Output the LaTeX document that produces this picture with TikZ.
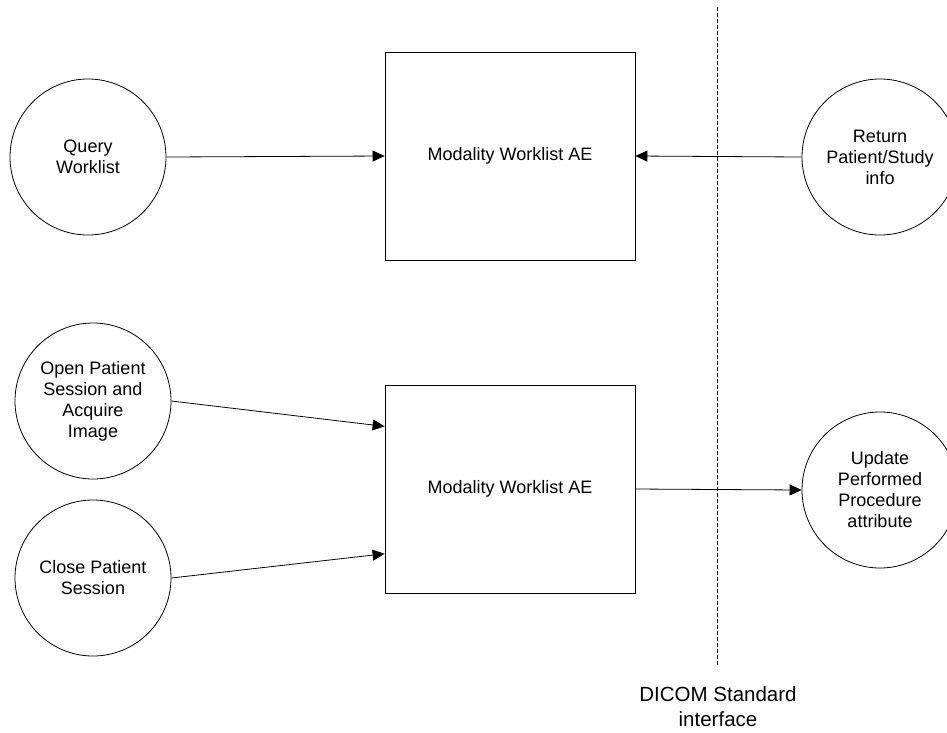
\documentclass[tikz,border=0pt]{standalone}
\usepackage{fontspec}
\setmainfont{Liberation Sans}
\usetikzlibrary{arrows.meta,calc}
\begin{document}
\begin{tikzpicture}[x=1pt,y=-1pt,
  proc/.style={draw,circle,minimum size=156pt,inner sep=0pt,align=center,font=\fontsize{18}{21}\selectfont,line width=0.8pt},
  aebox/.style={draw,rectangle,minimum width=250pt,minimum height=208pt,inner sep=0pt,font=\fontsize{18}{21}\selectfont,line width=0.8pt},
  flow/.style={line width=0.8pt,-{Triangle[length=12pt,width=11pt]}},
  bound/.style={line width=0.8pt,dash pattern=on 4pt off 2pt}]
\useasboundingbox (0,0) rectangle (947,732);
\clip (0,0) rectangle (947,732);
\node[proc] (q) at (88,157) {Query\\Worklist};
\node[proc] (r) at (880,157) {Return\\Patient/Study\\info};
\node[proc] (o) at (93,401) {Open Patient\\Session and\\Acquire\\Image};
\node[proc] (c) at (93,578) {Close Patient\\Session};
\node[proc] (u) at (880,490) {Update\\Performed\\Procedure\\attribute};
\node[aebox] (b1) at (510,156) {Modality Worklist AE};
\node[aebox] (b2) at (510,489) {Modality Worklist AE};
\coordinate (dtop) at (717,7);
\coordinate (dbot) at (717,665);
\draw[bound] (dtop) -- (dbot);
\node[align=center,font=\fontsize{20.5}{25}\selectfont] (lbl) at (718,707) {DICOM Standard\\interface};
\draw[flow] (q.east) -- (b1.west);
\draw[flow] (r.west) -- (b1.east);
\draw[flow] (o.east) -- ($(b2.north west)!0.2!(b2.south west)$);
\draw[flow] (c.east) -- ($(b2.north west)!0.81!(b2.south west)$);
\draw[flow] (b2.east) -- (u.west);
\end{tikzpicture}
\end{document}
